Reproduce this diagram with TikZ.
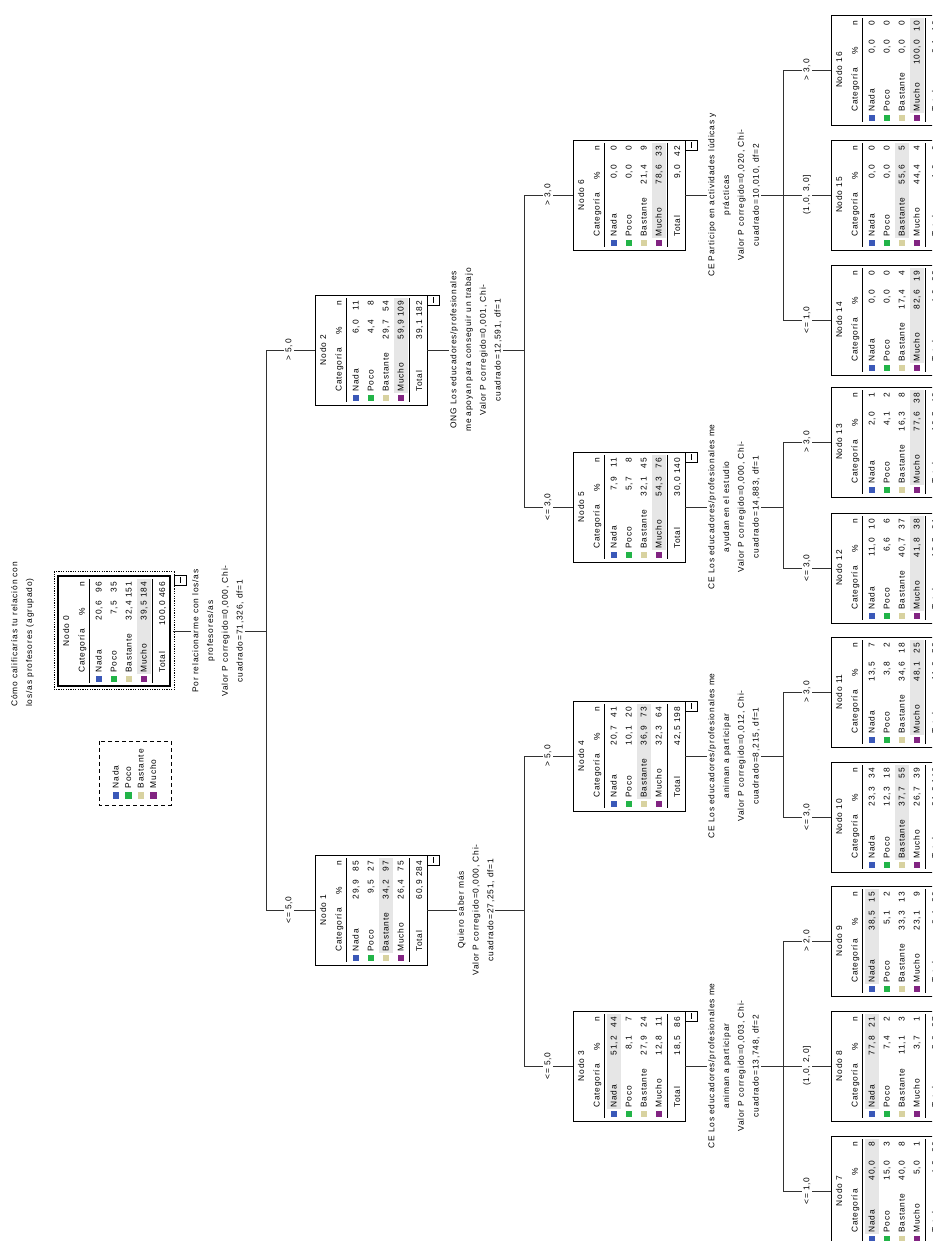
\documentclass[tikz,border=0pt]{standalone}
\usepackage{fontspec}
\setmainfont{Liberation Sans}[LetterSpace=10]
\definecolor{cNada}{RGB}{58,88,184}
\definecolor{cPoco}{RGB}{34,180,72}
\definecolor{cBast}{RGB}{216,210,160}
\definecolor{cMuch}{RGB}{130,36,130}
\definecolor{hlgray}{RGB}{230,230,230}
\definecolor{lnc}{RGB}{50,50,50}
\tikzset{
  tbox/.style={draw=black, line width=0.8pt, minimum width=110pt, minimum height=112pt, inner sep=0pt, rotate=90},
  ttxt/.style={inner sep=0pt},
  tl/.style={inner sep=0pt, anchor=mid west},
  tr/.style={inner sep=0pt, anchor=mid east},
  mbox/.style={draw=black, line width=0.7pt, minimum width=10pt, minimum height=12pt, inner sep=0pt, rotate=90, anchor=north east},
  conn/.style={draw=lnc, line width=0.9pt},
  split/.style={fill=white, inner sep=1pt, align=center, rotate=90},
  elab/.style={fill=white, inner sep=1.5pt, rotate=90},
  rule/.style={line width=0.8pt},
}
% #1 num, #2 px left, #3 py centre, #4 highlighted row, #5 total %, #6 total n
\newcommand{\tnode}[6]{%
  \node[tbox] (n#1) at ({#2+56},{1241-(#3)}) {};
  \def\tbx{#2}\def\tby{#3}%
  \begin{scope}[shift={(#2,{1186-(#3)})}, rotate=90, transform shape]
    \fill[hlgray] (12,{-(34+15*(#4-1))}) rectangle (107,{-(48+15*(#4-1))});
    \node[ttxt] (h#1) at (55,-8) {Nodo #1};
    \node[tl] (c#1) at (13,-24) {Categoría};
    \node[ttxt] (pc#1) at (74,-24) {\%};
    \node[tr] (nn#1) at (104,-24) {n};
    \draw[rule] (3,-31) -- (107,-31);
    \fill[cNada] (3.5,-37.7) rectangle (10,-44.3);
    \fill[cPoco] (3.5,-52.7) rectangle (10,-59.3);
    \fill[cBast] (3.5,-67.7) rectangle (10,-74.3);
    \fill[cMuch] (3.5,-82.7) rectangle (10,-89.3);
    \node[tl] (ra#1) at (13,-41) {Nada};
    \node[tl] (rb#1) at (13,-56) {Poco};
    \node[tl] (rc#1) at (13,-71) {Bastante};
    \node[tl] (rd#1) at (13,-86) {Mucho};
    \draw[rule] (3,-94) -- (107,-94);
    \node[tl] (rt#1) at (13,-104.5) {Total};
    \node[tr] (pt#1) at (85,-104.5) {#5};
    \node[tr] (qt#1) at (104,-104.5) {#6};
  \end{scope}}
\newcommand{\tvals}[8]{%
  \begin{scope}[shift={(\tbx,{1186-(\tby)})}, rotate=90, transform shape]
    \node[tr] at (85,-41) {#1}; \node[tr] at (104,-41) {#2};
    \node[tr] at (85,-56) {#3}; \node[tr] at (104,-56) {#4};
    \node[tr] at (85,-71) {#5}; \node[tr] at (104,-71) {#6};
    \node[tr] at (85,-86) {#7}; \node[tr] at (104,-86) {#8};
  \end{scope}}
\begin{document}
\begin{tikzpicture}[x=1pt, y=1pt, font=\fontsize{8.4}{14.8}\selectfont]
\path[use as bounding box, fill=white] (0,0) rectangle (932,1241);
\clip (0,0) rectangle (932,1241);

% title
\node[rotate=90, anchor=north west, align=left, inner sep=0pt] (title) at (11,{1241-707})
  {Cómo calificarías tu relación con\\los/as profesores (agrupado)};

% legend
\node[draw=black, dash pattern=on 4pt off 3pt, line width=0.8pt, rotate=90, minimum width=64pt, minimum height=72pt, inner sep=0pt] (leg) at (135,{1241-773}) {};
\begin{scope}[shift={(99,{1241-805})}, rotate=90, transform shape]
  \fill[cNada] (6,-13.7) rectangle (12.5,-20.3);
  \fill[cPoco] (6,-26.2) rectangle (12.5,-32.8);
  \fill[cBast] (6,-38.7) rectangle (12.5,-45.3);
  \fill[cMuch] (6,-51.2) rectangle (12.5,-57.8);
  \node[tl] (la) at (16.5,-17) {Nada};
  \node[tl] (lb) at (16.5,-29.5) {Poco};
  \node[tl] (lc) at (16.5,-42) {Bastante};
  \node[tl] (ld) at (16.5,-54.5) {Mucho};
\end{scope}

% tree nodes
\tnode{0}{58}{631}{4}{100,0}{466}\tvals{20,6}{96}{7,5}{35}{32,4}{151}{39,5}{184}
\draw[line width=2pt] (n0.north west) rectangle (n0.south east);
\draw[dash pattern=on 1.2pt off 1.2pt, line width=1pt] (54,{1241-690}) rectangle (174,{1241-572});
\tnode{1}{315}{910}{3}{60,9}{284}\tvals{29,9}{85}{9,5}{27}{34,2}{97}{26,4}{75}
\tnode{2}{315}{350}{4}{39,1}{182}\tvals{6,0}{11}{4,4}{8}{29,7}{54}{59,9}{109}
\tnode{3}{573}{1066}{1}{18,5}{86}\tvals{51,2}{44}{8,1}{7}{27,9}{24}{12,8}{11}
\tnode{4}{573}{756}{3}{42,5}{198}\tvals{20,7}{41}{10,1}{20}{36,9}{73}{32,3}{64}
\tnode{5}{573}{507}{4}{30,0}{140}\tvals{7,9}{11}{5,7}{8}{32,1}{45}{54,3}{76}
\tnode{6}{573}{195}{4}{9,0}{42}\tvals{0,0}{0}{0,0}{0}{21,4}{9}{78,6}{33}
\tnode{7}{831}{1191}{1}{4,3}{20}\tvals{40,0}{8}{15,0}{3}{40,0}{8}{5,0}{1}
\tnode{8}{831}{1066}{1}{5,8}{27}\tvals{77,8}{21}{7,4}{2}{11,1}{3}{3,7}{1}
\tnode{9}{831}{941}{1}{8,4}{39}\tvals{38,5}{15}{5,1}{2}{33,3}{13}{23,1}{9}
\tnode{10}{831}{817}{3}{31,3}{146}\tvals{23,3}{34}{12,3}{18}{37,7}{55}{26,7}{39}
\tnode{11}{831}{692}{4}{11,2}{52}\tvals{13,5}{7}{3,8}{2}{34,6}{18}{48,1}{25}
\tnode{12}{831}{568}{4}{19,5}{91}\tvals{11,0}{10}{6,6}{6}{40,7}{37}{41,8}{38}
\tnode{13}{831}{442}{4}{10,5}{49}\tvals{2,0}{1}{4,1}{2}{16,3}{8}{77,6}{38}
\tnode{14}{831}{320}{4}{4,9}{23}\tvals{0,0}{0}{0,0}{0}{17,4}{4}{82,6}{19}
\tnode{15}{831}{195}{3}{1,9}{9}\tvals{0,0}{0}{0,0}{0}{55,6}{5}{44,4}{4}
\tnode{16}{831}{70}{4}{2,1}{10}\tvals{0,0}{0}{0,0}{0}{0,0}{0}{100,0}{10}

% collapse boxes
\node[mbox] (m0) at ([xshift=4pt,yshift=1pt]n0.south east) {\rule{6pt}{0.7pt}};
\node[mbox] (m1) at (n1.south east) {\rule{6pt}{0.7pt}};
\node[mbox] (m2) at (n2.south east) {\rule{6pt}{0.7pt}};
\node[mbox] (m3) at (n3.south east) {\rule{6pt}{0.7pt}};
\node[mbox] (m4) at (n4.south east) {\rule{6pt}{0.7pt}};
\node[mbox] (m5) at (n5.south east) {\rule{6pt}{0.7pt}};
\node[mbox] (m6) at (n6.south east) {\rule{6pt}{0.7pt}};

% bus points
\coordinate (b0) at (266,{1241-631});
\coordinate (b1) at (524,{1241-910});
\coordinate (b2) at (524,{1241-350});
\coordinate (b3) at (783,{1241-1066});
\coordinate (b4) at (783,{1241-756});
\coordinate (b5) at (783,{1241-507});
\coordinate (b6) at (783,{1241-195});

% connectors
\draw[conn] ([xshift=3pt]n0.south) -- (b0) |- (n1.north);
\draw[conn] (b0) |- (n2.north);
\draw[conn] (n1.south) -- (b1) |- (n3.north);
\draw[conn] (b1) |- (n4.north);
\draw[conn] (n2.south) -- (b2) |- (n5.north);
\draw[conn] (b2) |- (n6.north);
\draw[conn] (n3.south) -- (b3) |- (n7.north);
\draw[conn] (b3) |- (n8.north);
\draw[conn] (b3) |- (n9.north);
\draw[conn] (n4.south) -- (b4) |- (n10.north);
\draw[conn] (b4) |- (n11.north);
\draw[conn] (n5.south) -- (b5) |- (n12.north);
\draw[conn] (b5) |- (n13.north);
\draw[conn] (n6.south) -- (b6) |- (n14.north);
\draw[conn] (b6) |- (n15.north);
\draw[conn] (b6) |- (n16.north);

% split labels
\node[split] (s0) at (218,{1241-631}) {Por relacionarme con los/as\\profesores/as\\Valor P corregido=0,000, Chi-\\cuadrado=71,326, df=1};
\node[split] (s1) at (476,{1241-910}) {Quiero saber más\\Valor P corregido=0,000, Chi-\\cuadrado=27,251, df=1};
\node[split] (s2) at (476,{1241-350}) {ONG Los educadores/profesionales\\me apoyan para conseguir un trabajo\\Valor P corregido=0,001, Chi-\\cuadrado=12,591, df=1};
\node[split] (s3) at (734,{1241-1066}) {CE Los educadores/profesionales me\\animan a participar\\Valor P corregido=0,003, Chi-\\cuadrado=13,748, df=2};
\node[split] (s4) at (734,{1241-756}) {CE Los educadores/profesionales me\\animan a participar\\Valor P corregido=0,012, Chi-\\cuadrado=8,215, df=1};
\node[split] (s5) at (734,{1241-507}) {CE Los educadores/profesionales me\\ayudan en el estudio\\Valor P corregido=0,000, Chi-\\cuadrado=14,883, df=1};
\node[split] (s6) at (734,{1241-195}) {CE Participo en actividades lúdicas y\\prácticas\\Valor P corregido=0,020, Chi-\\cuadrado=10,010, df=2};

% edge labels
\node[elab] (e1) at (289,{1241-910}) {<= 5,0};
\node[elab] (e2) at (289,{1241-350}) {> 5,0};
\node[elab] (e3) at (548,{1241-1066}) {<= 5,0};
\node[elab] (e4) at (548,{1241-756}) {> 5,0};
\node[elab] (e5) at (548,{1241-507}) {<= 3,0};
\node[elab] (e6) at (548,{1241-195}) {> 3,0};
\node[elab] (e7) at (807,{1241-1191}) {<= 1,0};
\node[elab] (e8) at (807,{1241-1066}) {(1,0, 2,0]};
\node[elab] (e9) at (807,{1241-941}) {> 2,0};
\node[elab] (e10) at (807,{1241-817}) {<= 3,0};
\node[elab] (e11) at (807,{1241-692}) {> 3,0};
\node[elab] (e12) at (807,{1241-568}) {<= 3,0};
\node[elab] (e13) at (807,{1241-442}) {> 3,0};
\node[elab] (e14) at (807,{1241-320}) {<= 1,0};
\node[elab] (e15) at (807,{1241-195}) {(1,0, 3,0]};
\node[elab] (e16) at (807,{1241-70}) {> 3,0};
\end{tikzpicture}
\end{document}
